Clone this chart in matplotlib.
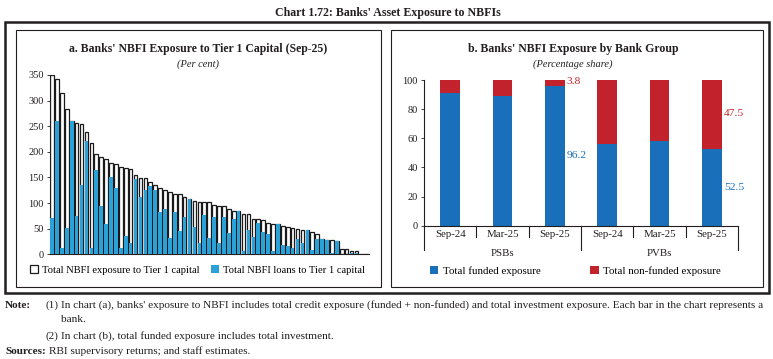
import numpy as np
import matplotlib.pyplot as plt
from matplotlib.patches import Rectangle
from matplotlib.transforms import blended_transform_factory

W, H = 773, 359
plt.rcParams["font.family"] = ["Liberation Serif", "DejaVu Serif"]

# chart a: one bar per bank (per cent of Tier 1 capital)
exposure = [350, 342, 315, 283, 261, 256, 254, 238, 217, 195,
            189, 187, 178, 176, 170, 168, 166, 154, 148, 148,
            141, 135, 129, 125, 121, 117, 117, 111, 107, 105,
            102, 102, 102, 96, 94, 94, 88, 85, 85, 79,
            79, 68, 68, 66, 62, 59, 59, 55, 53, 51,
            49, 47, 47, 43, 39, 30, 28, 28, 26, 10,
            10, 6, 6, 1, 1]
loans = [71, 260, 13, 51, 261, 75, 135, 221, 12, 165,
         94, 60, 150, 129, 12, 35, 23, 147, 111, 126,
         133, 126, 83, 88, 31, 83, 46, 72, 107, 53,
         23, 77, 32, 72, 22, 72, 42, 68, 85, 6,
         47, 34, 62, 44, 40, 6, 59, 18, 16, 13,
         29, 23, 47, 9, 29, 30, 28, 3, 26, 0,
         0, 3, 3, 1, 1]

# chart b: percentage share by bank group
groups = ["PSBs", "PVBs"]
periods = ["Sep-24", "Mar-25", "Sep-25", "Sep-24", "Mar-25", "Sep-25"]
funded = [91.0, 89.0, 96.2, 56.0, 58.0, 52.5]
non_funded = [9.0, 11.0, 3.8, 44.0, 42.0, 47.5]

light_blue = "#2AA1D7"
dark_blue = "#1A6FBA"
red = "#C1222C"
txt = "#231F20"

fig = plt.figure(figsize=(W / 100, H / 100), dpi=100)


def fx(x):
    return x / W


def fy(y):
    return 1 - y / H


def box(x0, y0, x1, y1, lw):
    fig.add_artist(Rectangle((fx(x0), fy(y1)), fx(x1) - fx(x0), fy(y0) - fy(y1),
                             transform=fig.transFigure, fill=False, lw=lw, ec=txt))


fig.text(fx(388), fy(13), "Chart 1.72: Banks' Asset Exposure to NBFIs", ha="center", va="center",
         fontsize=8.6, fontweight="bold", color=txt)
box(5, 22, 769, 293, 1.8)
box(16, 30, 381, 287, 0.8)
box(391, 30, 763, 287, 0.8)

# ---- chart a
ax1 = fig.add_axes([fx(50), fy(254.3), fx(369) - fx(50), fy(75) - fy(254.3)])
idx = np.arange(len(exposure))
b1 = ax1.bar(idx, exposure, width=0.74, color="white", edgecolor="#1a1a1a", lw=0.9, zorder=2)
b2 = ax1.bar(idx, loans, width=0.74, color=light_blue, lw=0, zorder=3)
ax1.set_xlim(-0.42, len(exposure) - 0.45)
ax1.set_ylim(0, 350)
ax1.set_yticks(np.arange(0, 351, 50))
ax1.set_xticks([])
for s in ["top", "right"]:
    ax1.spines[s].set_visible(False)
for s in ["left", "bottom"]:
    ax1.spines[s].set_linewidth(0.8)
    ax1.spines[s].set_color(txt)
ax1.tick_params(axis="y", length=2.5, width=0.6, labelsize=7.5, pad=2, colors=txt)

fig.text(fx(198), fy(49), "a. Banks' NBFI Exposure to Tier 1 Capital (Sep-25)", ha="center", va="center",
         fontsize=8.5, fontweight="bold", color=txt)
fig.text(fx(198), fy(64), "(Per cent)", ha="center", va="center", fontsize=7.5, style="italic", color=txt)
fig.legend([b1, b2], ["Total NBFI exposure to Tier 1 capital", "Total NBFI loans to Tier 1 capital"],
           loc="center", bbox_to_anchor=(fx(197.5), fy(270)), ncol=2, frameon=False, fontsize=7.6,
           handlelength=0.8, handleheight=0.8, handletextpad=0.4, columnspacing=1.0)

# ---- chart b
ax2 = fig.add_axes([fx(424), fy(225.7), fx(738) - fx(424), fy(80) - fy(225.7)])
x = np.arange(len(periods))
c1 = ax2.bar(x, funded, width=0.38, color=dark_blue, zorder=2)
c2 = ax2.bar(x, non_funded, bottom=funded, width=0.38, color=red, zorder=2)
ax2.set_xlim(-0.5, len(periods) - 0.5)
ax2.set_ylim(0, 100)
ax2.set_yticks(np.arange(0, 101, 20))
ax2.set_xticks(x)
ax2.set_xticklabels(periods)
for s in ["top", "right"]:
    ax2.spines[s].set_visible(False)
for s in ["left", "bottom"]:
    ax2.spines[s].set_linewidth(0.8)
    ax2.spines[s].set_color(txt)
ax2.tick_params(axis="y", length=2.5, width=0.6, labelsize=7.5, pad=2, colors=txt)
ax2.tick_params(axis="x", length=0, labelsize=7.8, pad=3, colors=txt)

tr = blended_transform_factory(ax2.transData, ax2.transAxes)
n = len(periods) // len(groups)
for k in range(len(periods) + 1):
    bottom = -0.167 if k % n == 0 else -0.078
    ax2.plot([k - 0.5, k - 0.5], [0, bottom], transform=tr, color=txt, lw=0.8, clip_on=False)
for g, name in enumerate(groups):
    ax2.text(g * n + (n - 1) / 2, -0.16, name, transform=tr, ha="center", va="top", fontsize=7.8, color=txt)

for i in [2, 5]:
    ax2.text(i + 0.23, funded[i] / 2, f"{funded[i]:.1f}", color=dark_blue, fontsize=8.2, va="center", ha="left")
    ax2.text(i + 0.23, funded[i] + non_funded[i] / 2 + 1, f"{non_funded[i]:.1f}", color=red, fontsize=8.2,
             va="center", ha="left")

fig.text(fx(573), fy(49), "b. Banks' NBFI Exposure by Bank Group", ha="center", va="center",
         fontsize=8.5, fontweight="bold", color=txt)
fig.text(fx(573), fy(64), "(Percentage share)", ha="center", va="center", fontsize=7.5, style="italic", color=txt)
fig.legend([c1, c2], ["Total funded exposure", "Total non-funded exposure"],
           loc="center left", bbox_to_anchor=(fx(420), fy(271)), ncol=2, frameon=False, fontsize=7.8,
           handlelength=0.8, handleheight=0.8, handletextpad=0.4, columnspacing=4.6)

# ---- notes
fs = 8.15
fig.text(fx(5), fy(305), "Note:", fontweight="bold", fontsize=fs, va="center", color=txt)
fig.text(fx(46), fy(305), "(1)", fontsize=fs, va="center", color=txt)
fig.text(fx(61), fy(305), "In chart (a), banks' exposure to NBFI includes total credit exposure (funded + non-funded) "
         "and total investment exposure. Each bar in the chart represents a", fontsize=fs, va="center", color=txt)
fig.text(fx(61), fy(320), "bank.", fontsize=fs, va="center", color=txt)
fig.text(fx(46), fy(336), "(2)", fontsize=fs, va="center", color=txt)
fig.text(fx(61), fy(336), "In chart (b), total funded exposure includes total investment.", fontsize=fs,
         va="center", color=txt)
fig.text(fx(5), fy(351), "Sources:", fontweight="bold", fontsize=fs, va="center", color=txt)
fig.text(fx(49), fy(351), "RBI supervisory returns; and staff estimates.", fontsize=fs, va="center", color=txt)

fig.savefig("out.png", dpi=100)
